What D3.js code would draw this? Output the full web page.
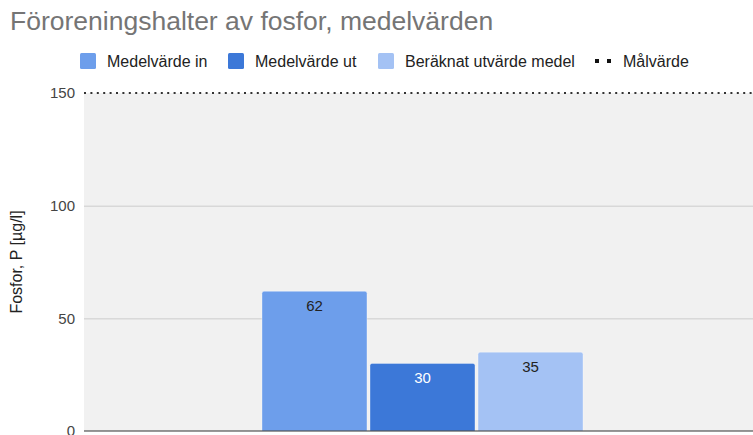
<!DOCTYPE html>
<html><head><meta charset="utf-8">
<script src="https://cdn.jsdelivr.net/npm/d3@7"></script>
<style>body{margin:0;background:#fff;}svg{display:block;font-family:Arial,"Liberation Sans",sans-serif;}</style>
</head><body><div id="chart"></div>
<script>
const categories = [""];
const seriesNames = ["Medelvärde in", "Medelvärde ut", "Beräknat utvärde medel"];
const seriesValues = [62, 30, 35];
const seriesColors = ["#6d9eeb", "#3c78d8", "#a4c2f4"];
const labelColors = ["#222222", "#ffffff", "#222222"];
const targetName = "Målvärde";
const targetValue = 150;
const yTicks = [0, 50, 100, 150];
const titleText = "Föroreningshalter av fosfor, medelvärden";
const yTitle = "Fosfor, P [µg/l]";

const W = 753, H = 435;
const m = {left: 84, top: 93, bottom: 431, right: 761};
const svg = d3.select("#chart").append("svg").attr("width", W).attr("height", H);

const y = d3.scaleLinear().domain([0, 150]).range([m.bottom, m.top]);
const x0 = d3.scaleBand().domain(categories).range([m.left, m.right]).paddingInner(0).paddingOuter(0.5545);
const x1 = d3.scaleBand().domain(seriesNames).range([0, x0.bandwidth()]).paddingInner(0.028).paddingOuter(0);

// plot background
svg.append("rect").attr("x", m.left).attr("y", m.top).attr("width", m.right - m.left).attr("height", m.bottom - m.top).attr("fill", "#f1f1f1");

// grid
const yAxis = d3.axisLeft(y).tickValues(yTicks).tickSize(-(m.right - m.left)).tickPadding(9);
const ga = svg.append("g").attr("transform", `translate(${m.left},0)`).call(yAxis);
ga.select(".domain").remove();
ga.selectAll(".tick line").attr("stroke", "#cccccc").attr("stroke-width", 1)
  .attr("display", d => (d === 0 || d === 150) ? "none" : null);
ga.selectAll(".tick text").attr("fill", "#444").attr("font-size", 15).attr("font-family", "Arial, 'Liberation Sans', sans-serif");

// bars
function topRounded(x, yTop, w, h, r) {
  return `M${x},${yTop + h}V${yTop + r}Q${x},${yTop} ${x + r},${yTop}H${x + w - r}Q${x + w},${yTop} ${x + w},${yTop + r}V${yTop + h}Z`;
}
const g = svg.append("g").attr("transform", `translate(${x0(categories[0])},0)`);
seriesNames.forEach((s, i) => {
  const bx = x1(s), bw = x1.bandwidth();
  const yt = y(seriesValues[i]);
  g.append("path").attr("d", topRounded(bx, yt, bw, y(0) - yt, 2))
    .attr("fill", seriesColors[i]).attr("stroke", "#ffffff").attr("stroke-opacity", 0.35).attr("stroke-width", 1);
  g.append("text").attr("x", bx + bw / 2).attr("y", yt + 20).attr("text-anchor", "middle")
    .attr("font-size", 15).attr("fill", labelColors[i]).text(seriesValues[i]);
});

// zero line
svg.append("line").attr("x1", m.left).attr("x2", m.right).attr("y1", y(0)).attr("y2", y(0)).attr("stroke", "#333").attr("stroke-width", 1.2);

// target line
svg.append("line").attr("x1", m.left).attr("x2", m.right).attr("y1", y(targetValue)).attr("y2", y(targetValue))
  .attr("stroke", "#333").attr("stroke-width", 2).attr("stroke-dasharray", "2,4.4");

// title
svg.append("text").attr("x", 10).attr("y", 30).attr("font-size", 26.5).attr("fill", "#757575").text(titleText);

// y title
svg.append("text").attr("transform", `translate(22,${(m.top + m.bottom) / 2}) rotate(-90)`).attr("text-anchor", "middle")
  .attr("font-size", 16).attr("fill", "#222").text(yTitle);

// legend
const legX = [80, 228, 378];
const legend = svg.append("g");
seriesNames.forEach((s, i) => {
  legend.append("rect").attr("x", legX[i]).attr("y", 53).attr("width", 16).attr("height", 16).attr("rx", 1.5).attr("fill", seriesColors[i]);
  legend.append("text").attr("x", legX[i] + 27).attr("y", 66.5).attr("font-size", 16).attr("fill", "#222").text(s);
});
legend.append("line").attr("x1", 595).attr("x2", 612).attr("y1", 61).attr("y2", 61).attr("stroke", "#111").attr("stroke-width", 4).attr("stroke-dasharray", "4,8");
legend.append("text").attr("x", 623).attr("y", 66.5).attr("font-size", 16).attr("fill", "#222").text(targetName);
</script></body></html>
